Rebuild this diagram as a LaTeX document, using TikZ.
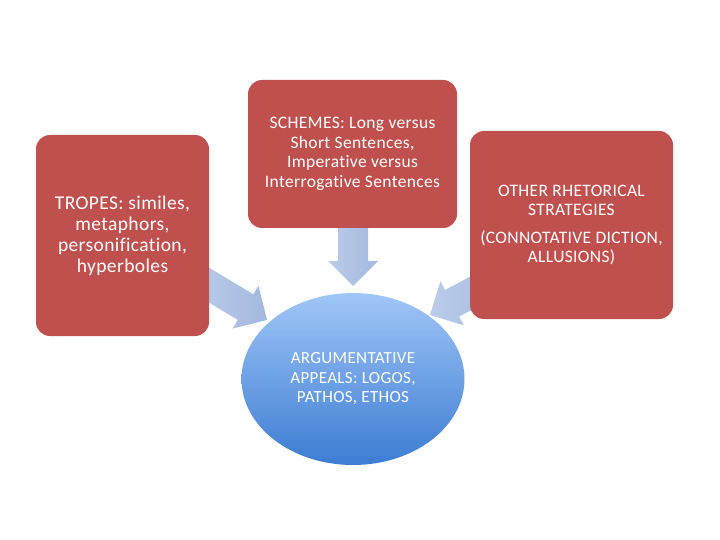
\documentclass[tikz,border=0pt]{standalone}
\usepackage{fontspec}
\setmainfont{Carlito}[LetterSpace=2,Ligatures=NoCommon]
\usetikzlibrary{shapes.geometric}
\definecolor{boxred}{RGB}{192,80,77}
\definecolor{arrA}{RGB}{188,205,234}
\definecolor{arrB}{RGB}{163,184,222}
\definecolor{ellTop}{RGB}{160,198,248}
\definecolor{ellBot}{RGB}{60,124,210}
\tikzset{
  redbox/.style={draw=none, fill=boxred, rounded corners=14pt, text=white, align=center, inner sep=0pt},
  appeal/.style={ellipse, draw=none, top color=ellTop, bottom color=ellBot, text=white, align=center, inner sep=0pt},
  blockarrow/.style={draw=none, left color=arrA, right color=arrB}
}
\newcommand{\blockarrowpath}[1]{(0,0) -- (-25,25) -- (-25,15) -- (-#1,15) -- (-#1,-15) -- (-25,-15) -- (-25,-25) -- cycle}
\begin{document}
\begin{tikzpicture}[x=1pt,y=-1pt]
\useasboundingbox (0,0) rectangle (720,540);
% target tips of the block arrows
\coordinate (tipT) at (353,286);
\coordinate (tipL) at (267,320);
\coordinate (tipR) at (430,315);
% arrows (behind boxes)
\path[blockarrow, shift={(tipT)}, rotate=-90] \blockarrowpath{70};
\path[blockarrow, shift={(tipL)}, rotate=-31] \blockarrowpath{80};
\path[blockarrow, shift={(tipR)}, rotate=-152] \blockarrowpath{80};
% boxes
\node[redbox, minimum width=173pt, minimum height=201pt, font=\fontsize{19.5}{21}\selectfont] (tropes) at (122.5,235.5)
  {TROPES: similes,\\metaphors,\\personification,\\hyperboles};
\node[redbox, minimum width=209pt, minimum height=148pt, font=\fontsize{17.5}{19.5}\selectfont] (schemes) at (352.5,154)
  {SCHEMES: Long versus\\Short Sentences,\\Imperative versus\\Interrogative Sentences};
\node[redbox, minimum width=203pt, minimum height=188pt, font=\fontsize{17.5}{19.5}\selectfont] (other) at (571.5,225)
  {OTHER RHETORICAL\\STRATEGIES\\[8pt](CONNOTATIVE DICTION,\\ALLUSIONS)};
\node[appeal, minimum width=223pt, minimum height=172pt, font=\fontsize{17}{19.5}\selectfont] (appeals) at (353,379)
  {ARGUMENTATIVE\\APPEALS: LOGOS,\\PATHOS, ETHOS};
\end{tikzpicture}
\end{document}
